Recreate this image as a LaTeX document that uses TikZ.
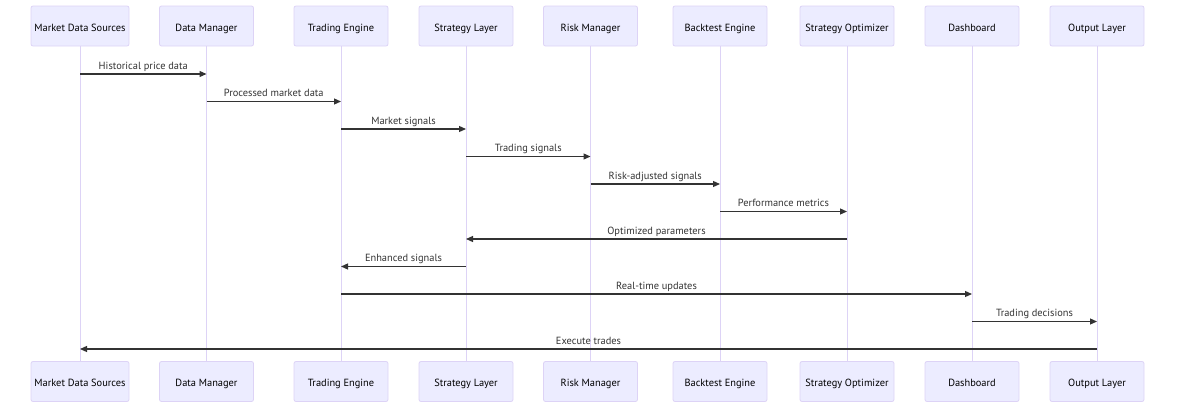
\documentclass[tikz,border=0pt]{standalone}
\usepackage{fontspec}
\setmainfont{PT Sans}
\usetikzlibrary{arrows.meta,positioning}

\definecolor{actfill}{HTML}{ECECFF}
\definecolor{actline}{HTML}{DDD3F6}
\definecolor{msgcol}{HTML}{333333}

\begin{document}
\begin{tikzpicture}[
      x=1pt, y=-1pt,
      actor/.style={draw=actline, fill=actfill, rectangle, rounded corners=2pt,
                    minimum width=94pt, minimum height=40pt, inner xsep=0pt,
                    text height=10pt, text depth=0pt,
                    line width=0.8pt, font=\fontsize{10.4}{12}\selectfont},
      lifeline/.style={draw=actline, line width=1pt},
      msg/.style={draw=msgcol, line width=1.2pt, -{Triangle[length=7pt,width=6pt]}},
      mlabel/.style={midway, anchor=base, yshift=5pt, inner sep=0pt, text=msgcol,
                     font=\fontsize{10.4}{12}\selectfont},
    ]
    \useasboundingbox (0,0) rectangle (1184,413);

    % ---- Actors (top) ----
    \node[actor, minimum width=98pt] (mds) at (80,26) {Market Data Sources};
    \node[actor] (dm) at (206.5,26) {Data Manager};
    \node[actor] (te) at (341,26) {Trading Engine};
    \node[actor] (sl) at (466,26) {Strategy Layer};
    \node[actor] (rm) at (590.5,26) {Risk Manager};
    \node[actor] (be) at (720,26) {Backtest Engine};
    \node[actor] (so) at (847,26) {Strategy Optimizer};
    \node[actor] (db) at (972,26) {Dashboard};
    \node[actor] (ol) at (1097,26) {Output Layer};

    % ---- Actors (bottom) ----
    \node[actor, minimum width=98pt] (mds-b) at (80,381.5) {Market Data Sources};
    \node[actor] (dm-b) at (dm |- mds-b) {Data Manager};
    \node[actor] (te-b) at (te |- mds-b) {Trading Engine};
    \node[actor] (sl-b) at (sl |- mds-b) {Strategy Layer};
    \node[actor] (rm-b) at (rm |- mds-b) {Risk Manager};
    \node[actor] (be-b) at (be |- mds-b) {Backtest Engine};
    \node[actor] (so-b) at (so |- mds-b) {Strategy Optimizer};
    \node[actor] (db-b) at (db |- mds-b) {Dashboard};
    \node[actor] (ol-b) at (ol |- mds-b) {Output Layer};

    % lifelines
    \draw[lifeline] (mds) -- (mds-b);
    \draw[lifeline] (dm) -- (dm-b);
    \draw[lifeline] (te) -- (te-b);
    \draw[lifeline] (sl) -- (sl-b);
    \draw[lifeline] (rm) -- (rm-b);
    \draw[lifeline] (be) -- (be-b);
    \draw[lifeline] (so) -- (so-b);
    \draw[lifeline] (db) -- (db-b);
    \draw[lifeline] (ol) -- (ol-b);

    % ---- Messages ----
    \draw[msg] (mds |- 0,74) -- (dm |- 0,74) node[mlabel]{Historical price data};
    \draw[msg] (dm |- 0,101.5) -- (te |- 0,101.5) node[mlabel]{Processed market data};
    \draw[msg] (te |- 0,129) -- (sl |- 0,129) node[mlabel]{Market signals};
    \draw[msg] (sl |- 0,156.5) -- (rm |- 0,156.5) node[mlabel]{Trading signals};
    \draw[msg] (rm |- 0,184) -- (be |- 0,184) node[mlabel]{Risk-adjusted signals};
    \draw[msg] (be |- 0,211.5) -- (so |- 0,211.5) node[mlabel]{Performance metrics};
    \draw[msg] (so |- 0,239) -- (sl |- 0,239) node[mlabel]{Optimized parameters};
    \draw[msg] (sl |- 0,266.5) -- (te |- 0,266.5) node[mlabel]{Enhanced signals};
    \draw[msg] (te |- 0,294) -- (db |- 0,294) node[mlabel]{Real-time updates};
    \draw[msg] (db |- 0,321.5) -- (ol |- 0,321.5) node[mlabel]{Trading decisions};
    \draw[msg] (ol |- 0,349) -- (mds |- 0,349) node[mlabel]{Execute trades};
  \end{tikzpicture}
\end{document}
